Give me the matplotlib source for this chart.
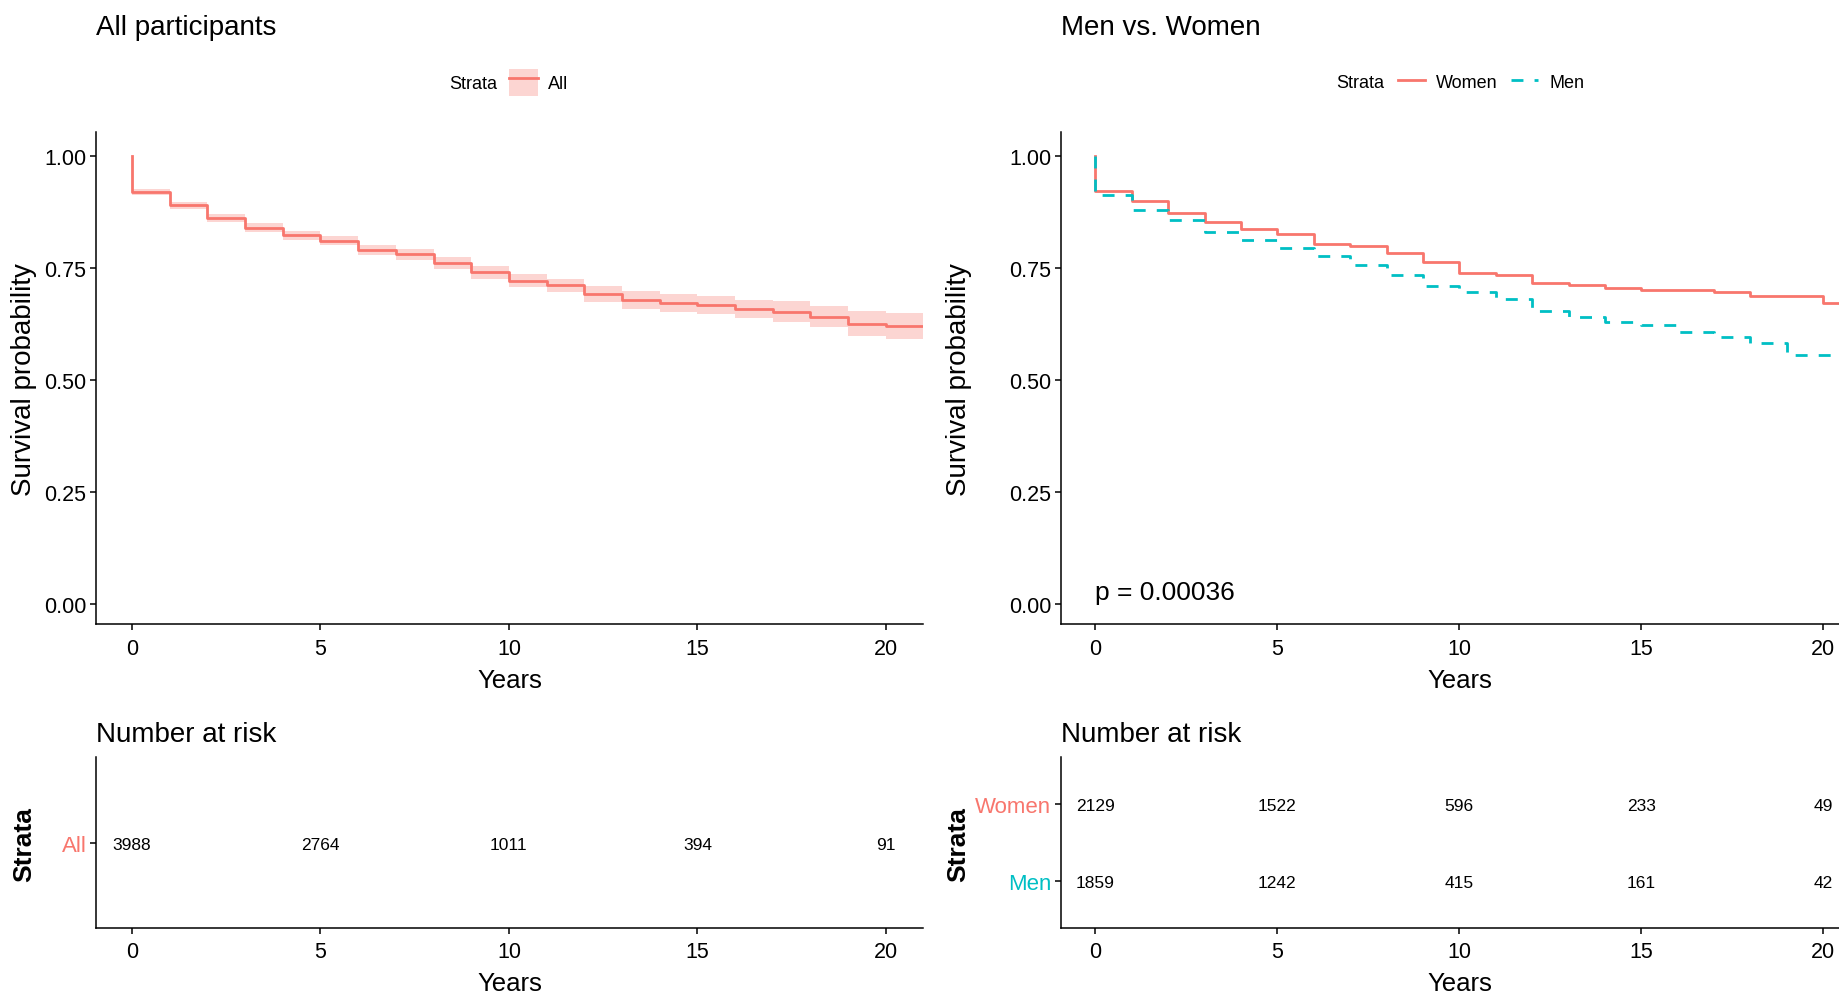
import matplotlib
matplotlib.use('Agg')
import matplotlib.pyplot as plt
from matplotlib.lines import Line2D
from matplotlib.patches import Patch

plt.rcParams['font.family'] = ['Liberation Sans', 'DejaVu Sans']

RED = '#F8766D'
CYAN = '#00BFC4'

# step times (yearly), first 0 is the start at 1.0, last value held to the panel edge
step_years = [0, 0, 1, 2, 3, 4, 5, 6, 7, 8, 9, 10, 11, 12, 13, 14, 15, 16, 17, 18, 19, 20]
end_year = 21

# all participants: survival and 95% CI
surv_all = [1.000, 0.920, 0.890, 0.863, 0.840, 0.824, 0.811, 0.791, 0.781, 0.761, 0.741,
            0.722, 0.713, 0.693, 0.679, 0.673, 0.668, 0.659, 0.653, 0.642, 0.626, 0.620]
upper_all = [1.000, 0.926, 0.898, 0.872, 0.850, 0.834, 0.821, 0.802, 0.793, 0.774, 0.755,
             0.737, 0.727, 0.710, 0.699, 0.692, 0.687, 0.679, 0.676, 0.666, 0.655, 0.650]
lower_all = [1.000, 0.914, 0.882, 0.854, 0.830, 0.814, 0.801, 0.780, 0.769, 0.748, 0.727,
             0.707, 0.698, 0.675, 0.660, 0.653, 0.648, 0.639, 0.630, 0.618, 0.599, 0.591]

# men vs women
surv_women = [1.000, 0.923, 0.901, 0.873, 0.854, 0.837, 0.827, 0.805, 0.799, 0.785, 0.764,
              0.740, 0.735, 0.718, 0.712, 0.705, 0.702, 0.702, 0.698, 0.689, 0.689, 0.673]
surv_men = [1.000, 0.914, 0.881, 0.857, 0.831, 0.814, 0.794, 0.778, 0.758, 0.735, 0.711,
            0.698, 0.682, 0.655, 0.642, 0.629, 0.623, 0.607, 0.597, 0.584, 0.556, 0.556]
p_text = 'p = 0.00036'

# number at risk table
risk_years = [0, 5, 10, 15, 20]
risk_all = [3988, 2764, 1011, 394, 91]
risk_women = [2129, 1522, 596, 233, 49]
risk_men = [1859, 1242, 415, 161, 42]

xticks = [0, 5, 10, 15, 20]
yticks = [0, 0.25, 0.5, 0.75, 1.0]
xlim = (-0.95, 21.0)


def with_end(vals):
    return list(vals) + [vals[-1]]


def style_axes(ax):
    for side in ['top', 'right']:
        ax.spines[side].set_visible(False)
    for side in ['left', 'bottom']:
        ax.spines[side].set_linewidth(1.1)
        ax.spines[side].set_color('black')
    ax.tick_params(direction='out', length=4, width=1.1, labelsize=15.5, pad=3,
                   colors='black')
    ax.tick_params(axis='x', pad=5.5)
    ax.set_xlim(*xlim)
    ax.set_xticks(xticks)


fig = plt.figure(figsize=(18.4, 9.95), dpi=100)

# top-left: all participants
ax1 = fig.add_axes([0.0523, 0.3714, 0.4496, 0.4954])
xs = step_years + [end_year]
ax1.fill_between(xs, with_end(lower_all), with_end(upper_all), step='post',
                 color=RED, alpha=0.3, linewidth=0)
ax1.step(xs, with_end(surv_all), where='post', color=RED, lw=2)
style_axes(ax1)
ax1.set_ylim(-0.045, 1.055)
ax1.set_yticks(yticks)
ax1.set_yticklabels(['%.2f' % v for v in yticks])
ax1.set_xlabel('Years', fontsize=18.5, labelpad=6.5)
ax1.set_title('All participants', loc='left', fontsize=20, pad=70)
fig.text(24 / 1840, 1 - 380 / 995, 'Survival probability', rotation=90,
         fontsize=20, ha='center', va='center')

blank = Line2D([], [], color='none')
band_key = (Patch(facecolor=RED, alpha=0.3, edgecolor='none'),
            Line2D([], [], color=RED, lw=2))
ax1.legend([blank, band_key], ['Strata', 'All'], loc='center left',
           bbox_to_anchor=(0.380, 1.100), ncol=2, frameon=False, fontsize=13,
           handlelength=1.6, handleheight=1.9, handletextpad=0.55,
           columnspacing=0.65, borderpad=0, borderaxespad=0)

# top-right: men vs women
ax2 = fig.add_axes([0.5765, 0.3714, 0.4342, 0.4954])
ax2.step(xs, with_end(surv_women), where='post', color=RED, lw=2)
ax2.step(xs, with_end(surv_men), where='post', color=CYAN, lw=2,
         linestyle=(0, (4.3, 4)))
style_axes(ax2)
ax2.set_ylim(-0.045, 1.055)
ax2.set_yticks(yticks)
ax2.set_yticklabels(['%.2f' % v for v in yticks])
ax2.set_xlabel('Years', fontsize=18.5, labelpad=6.5)
ax2.set_title('Men vs. Women', loc='left', fontsize=20, pad=70)
ax2.text(0, 0.027, p_text, fontsize=19, ha='left', va='center')
fig.text(959 / 1840, 1 - 380 / 995, 'Survival probability', rotation=90,
         fontsize=20, ha='center', va='center')

women_key = Line2D([], [], color=RED, lw=2)
men_key = Line2D([], [], color=CYAN, lw=2, linestyle=(0, (4.3, 4)))
ax2.legend([blank, women_key, men_key], ['Strata', 'Women', 'Men'],
           loc='center left', bbox_to_anchor=(0.2978, 1.100), ncol=3,
           frameon=False, fontsize=13, handlelength=1.5, handletextpad=0.6,
           columnspacing=0.75, borderpad=0, borderaxespad=0)

# bottom-left: number at risk, all
ax3 = fig.add_axes([0.0523, 0.0668, 0.4496, 0.1709])
for x, n in zip(risk_years, risk_all):
    ax3.text(x, 1, str(n), ha='center', va='center_baseline', fontsize=12.5)
style_axes(ax3)
ax3.set_ylim(0.4, 1.6)
ax3.set_yticks([1])
ax3.set_yticklabels(['All'], fontsize=16)
ax3.get_yticklabels()[0].set_color(RED)
ax3.set_xlabel('Years', fontsize=18.5, labelpad=6.5)
ax3.set_title('Number at risk', loc='left', fontsize=20, pad=12)
fig.text(24 / 1840, 1 - 845 / 995, 'Strata', rotation=90, fontsize=19,
         fontweight='bold', ha='center', va='center')

# bottom-right: number at risk, by sex
ax4 = fig.add_axes([0.5765, 0.0668, 0.4342, 0.1709])
for x, nw, nm in zip(risk_years, risk_women, risk_men):
    ax4.text(x, 2, str(nw), ha='center', va='center_baseline', fontsize=12.5)
    ax4.text(x, 1, str(nm), ha='center', va='center_baseline', fontsize=12.5)
style_axes(ax4)
ax4.set_ylim(0.4, 2.6)
ax4.set_yticks([1, 2])
ax4.set_yticklabels(['Men', 'Women'], fontsize=16)
ax4.get_yticklabels()[0].set_color(CYAN)
ax4.get_yticklabels()[1].set_color(RED)
ax4.set_xlabel('Years', fontsize=18.5, labelpad=6.5)
ax4.set_title('Number at risk', loc='left', fontsize=20, pad=12)
fig.text(958 / 1840, 1 - 845 / 995, 'Strata', rotation=90, fontsize=19,
         fontweight='bold', ha='center', va='center')

fig.savefig('out.png', dpi=100, facecolor='white')
